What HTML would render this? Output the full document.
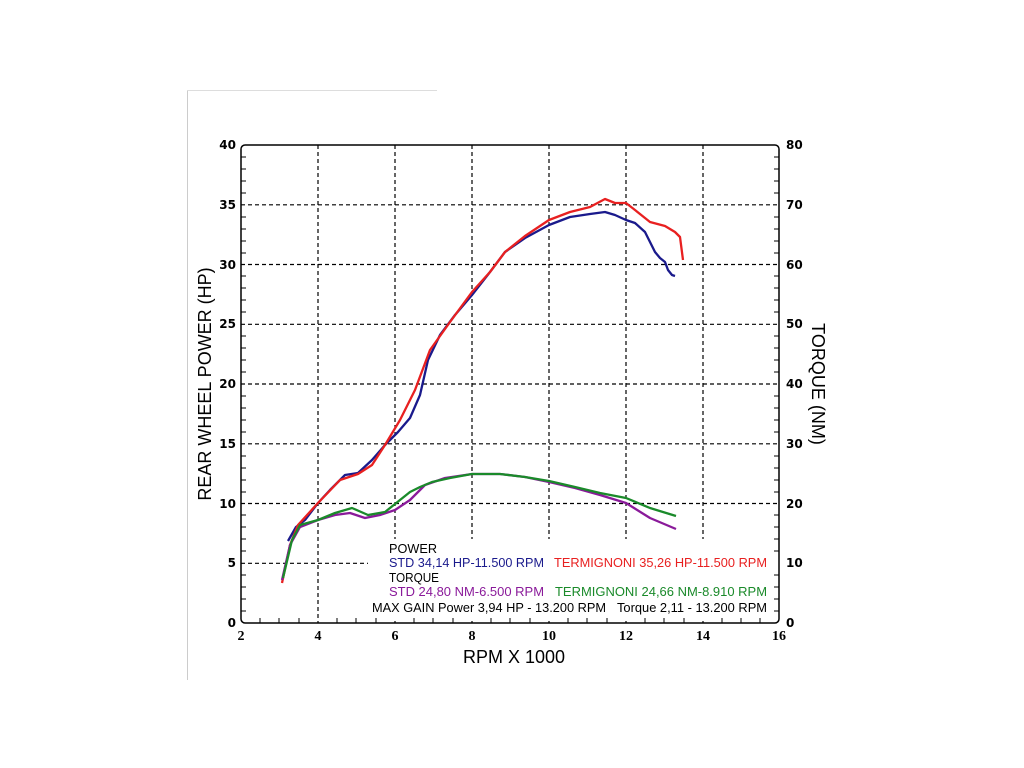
<!DOCTYPE html><html><head><style>body{margin:0;background:#fff}svg{display:block}</style></head><body>
<svg width="1024" height="768" xmlns="http://www.w3.org/2000/svg" font-family="Liberation Sans, sans-serif">
<rect width="1024" height="768" fill="#fff"/>
<line x1="187.5" y1="90" x2="187.5" y2="680" stroke="#ccc"/>
<line x1="187" y1="90.5" x2="437" y2="90.5" stroke="#ddd"/>
<g stroke="#000" stroke-dasharray="4,3" stroke-width="1.2">
<line x1="318" y1="145" x2="318" y2="623"/><line x1="395" y1="145" x2="395" y2="623"/><line x1="472" y1="145" x2="472" y2="623"/><line x1="549" y1="145" x2="549" y2="623"/><line x1="626" y1="145" x2="626" y2="623"/><line x1="703" y1="145" x2="703" y2="623"/>
<line x1="241" y1="204.8" x2="779" y2="204.8"/><line x1="241" y1="264.5" x2="779" y2="264.5"/><line x1="241" y1="324.3" x2="779" y2="324.3"/><line x1="241" y1="384" x2="779" y2="384"/><line x1="241" y1="443.8" x2="779" y2="443.8"/><line x1="241" y1="503.5" x2="779" y2="503.5"/><line x1="241" y1="563.3" x2="779" y2="563.3"/>
</g>
<rect x="368" y="539" width="411" height="82" fill="#fff"/>
<rect x="241" y="145" width="538" height="478" rx="4" fill="none" stroke="#000" stroke-width="1.5"/>
<g stroke="#000" stroke-width="1">
<path d="M241 157h5M241 169h5M241 181h5M241 193h5M241 217h5M241 229h5M241 241h5M241 253h5M241 276h5M241 288h5M241 300h5M241 312h5M241 336h5M241 348h5M241 360h5M241 372h5M241 396h5M241 408h5M241 420h5M241 432h5M241 456h5M241 468h5M241 480h5M241 492h5M241 515h5M241 527h5M241 539h5M241 551h5M241 575h5M241 587h5M241 599h5M241 611h5"/>
<path d="M779 157h-5M779 169h-5M779 181h-5M779 193h-5M779 217h-5M779 229h-5M779 241h-5M779 253h-5M779 276h-5M779 288h-5M779 300h-5M779 312h-5M779 336h-5M779 348h-5M779 360h-5M779 372h-5M779 396h-5M779 408h-5M779 420h-5M779 432h-5M779 456h-5M779 468h-5M779 480h-5M779 492h-5M779 515h-5M779 527h-5M779 539h-5M779 551h-5M779 575h-5M779 587h-5M779 599h-5M779 611h-5"/>
<path d="M260 623v-5M279 623v-5M299 623v-5M337 623v-5M356 623v-5M376 623v-5M414 623v-5M433 623v-5M453 623v-5M491 623v-5M510 623v-5M530 623v-5M568 623v-5M587 623v-5M607 623v-5M645 623v-5M664 623v-5M684 623v-5M722 623v-5M741 623v-5M760 623v-5"/>
</g>
<g font-family="DejaVu Sans, sans-serif" font-weight="bold" font-size="12" text-anchor="end">
<text x="236" y="149">40</text><text x="236" y="209">35</text><text x="236" y="269">30</text><text x="236" y="328">25</text><text x="236" y="388">20</text><text x="236" y="448">15</text><text x="236" y="508">10</text><text x="236" y="567">5</text><text x="236" y="627">0</text>
</g>
<g font-family="DejaVu Sans, sans-serif" font-weight="bold" font-size="12">
<text x="786" y="149">80</text><text x="786" y="209">70</text><text x="786" y="269">60</text><text x="786" y="328">50</text><text x="786" y="388">40</text><text x="786" y="448">30</text><text x="786" y="508">20</text><text x="786" y="567">10</text><text x="786" y="627">0</text>
</g>
<g font-family="Liberation Serif, serif" font-weight="bold" font-size="14" text-anchor="middle">
<text x="241" y="640">2</text><text x="318" y="640">4</text><text x="395" y="640">6</text><text x="472" y="640">8</text><text x="549" y="640">10</text><text x="626" y="640">12</text><text x="703" y="640">14</text><text x="779" y="640">16</text>
</g>
<text x="514" y="663" font-size="18" text-anchor="middle">RPM X 1000</text>
<text transform="translate(211,384) rotate(-90)" font-size="18" text-anchor="middle">REAR WHEEL POWER (HP)</text>
<text transform="translate(812,384) rotate(90)" font-size="18" text-anchor="middle">TORQUE (NM)</text>
<g fill="none" stroke-width="2.3" stroke-linejoin="round">
<polyline stroke="#1a1a8c" points="288,541 296,527 305,520 318,503 330,490 345,475 358,473 372,460 385,445 398,432 410,418 420,395 428,360 440,335 455,315 472,295 490,272 505,252 525,238 549,225 570,217 590,214 605,212 615,215 626,220 635,223 645,232 650,242 655,252 660,258 665,262 668,270 672,275 675,276"/>
<polyline stroke="#e82020" points="282,583 290,545 298,525 318,503 340,480 358,474 372,465 385,445 400,420 415,390 430,350 450,322 472,292 490,272 505,252 525,236 549,220 570,212 590,207 605,199 615,203 626,203 635,210 650,222 665,226 675,232 680,237 683,260"/>
<polyline stroke="#8a1a9a" points="282,580 290,545 300,527 318,520 335,515 350,513 365,518 380,515 395,510 410,500 425,485 445,478 472,474 500,474 525,477 549,482 575,488 600,495 626,503 650,518 676,529"/>
<polyline stroke="#1a8a2a" points="283,578 292,540 300,525 318,520 335,513 352,508 368,515 385,512 400,500 410,492 420,487 432,482 450,478 472,474 500,474 525,477 549,481 575,487 600,493 626,498 650,508 676,516"/>
</g>
<g font-size="12.5">
<text x="389" y="553" textLength="48" lengthAdjust="spacingAndGlyphs">POWER</text>
<text x="389" y="567" fill="#1a1a8c" textLength="155" lengthAdjust="spacingAndGlyphs">STD 34,14 HP-11.500 RPM</text>
<text x="554" y="567" fill="#e82020" textLength="213" lengthAdjust="spacingAndGlyphs">TERMIGNONI 35,26 HP-11.500 RPM</text>
<text x="389" y="582" textLength="50" lengthAdjust="spacingAndGlyphs">TORQUE</text>
<text x="389" y="596" fill="#8a1a9a" textLength="155" lengthAdjust="spacingAndGlyphs">STD  24,80 NM-6.500 RPM</text>
<text x="555" y="596" fill="#1a8a2a" textLength="212" lengthAdjust="spacingAndGlyphs">TERMIGNONI  24,66 NM-8.910 RPM</text>
<text x="372" y="612" textLength="234" lengthAdjust="spacingAndGlyphs">MAX GAIN Power 3,94 HP - 13.200 RPM</text>
<text x="617" y="612" textLength="150" lengthAdjust="spacingAndGlyphs">Torque 2,11 - 13.200 RPM</text>
</g>
</svg></body></html>
